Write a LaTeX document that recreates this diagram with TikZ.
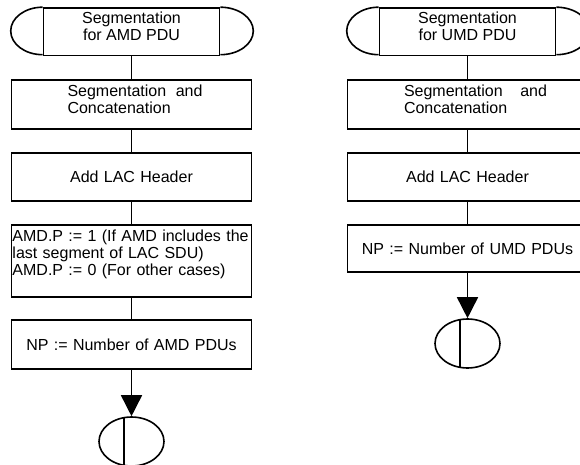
\documentclass[tikz,border=0pt]{standalone}
\usepackage{fontspec}
\setmainfont{Liberation Sans}
\usetikzlibrary{arrows.meta,shapes.geometric,calc}
\begin{document}
\begin{tikzpicture}[x=1pt,y=1pt,
  font=\fontsize{16}{16.7}\selectfont,
  line width=1.6pt,
  box/.style={draw, rectangle, minimum width=240pt, inner xsep=1pt, inner ysep=0pt, text width=238pt, align=left},
  term/.style={draw, rectangle, minimum width=176pt, minimum height=47.5pt, inner sep=0pt, align=center},
  endst/.style={draw, ellipse, minimum width=65pt, minimum height=49pt, inner sep=0pt},
  flow/.style={-{Triangle[length=21pt,width=21pt]}}
]
\useasboundingbox (0,0) rectangle (580,-465);
\clip (0,0) rectangle (580,-465);
% left column
\node[term] (ta) at (131.5,-31.75) {Segmentation\\for AMD PDU\\[-6pt]\mbox{}};
\draw (ta.north west) arc[start angle=90, end angle=270, x radius=32pt, y radius=23.75pt];
\draw (ta.north east) arc[start angle=90, end angle=-90, x radius=33pt, y radius=23.75pt];
\node[box, minimum height=49pt] (a2) at (131.5,-104.5) {\hspace*{55pt}\hbox to 135pt{Segmentation\hfill and}\\\hspace*{55pt}Concatenation\\[-6pt]\mbox{}};
\node[box, minimum height=48pt, align=center] (a3) at (131.5,-177) {Add LAC Header};
\node[box, minimum height=72pt] (a4) at (131.5,-261) {AMD.P := 1 (If AMD includes the\\last segment of LAC SDU)\\AMD.P := 0 (For other cases)\\\mbox{}};
\node[box, minimum height=49pt, align=center] (a5) at (131.5,-344.5) {NP := Number of AMD PDUs};
\node[endst] (ae) at (131.5,-441.5) {};
\draw ($(ae.center)+(-7.5,23.8)$) -- ($(ae.center)+(-7.5,-23.8)$);
\draw (ta) -- (a2);
\draw (a2) -- (a3);
\draw (a3) -- (a4);
\draw (a4) -- (a5);
\draw[flow] (a5) -- (ae);
% right column
\node[term] (tb) at (467.5,-31.75) {Segmentation\\for UMD PDU\\[-6pt]\mbox{}};
\draw (tb.north west) arc[start angle=90, end angle=270, x radius=32pt, y radius=23.75pt];
\draw (tb.north east) arc[start angle=90, end angle=-90, x radius=33pt, y radius=23.75pt];
\node[box, minimum height=49pt] (b2) at (467.5,-104.5) {\hspace*{55.5pt}\hbox to 143pt{Segmentation\hfill and}\\\hspace*{55.5pt}Concatenation\\[-6pt]\mbox{}};
\node[box, minimum height=48pt, align=center] (b3) at (467.5,-177) {Add LAC Header};
\node[box, minimum height=47pt, align=center] (b4) at (467.5,-248.5) {NP := Number of UMD PDUs};
\node[endst] (be) at (467.5,-343.5) {};
\draw ($(be.center)+(-7.5,23.8)$) -- ($(be.center)+(-7.5,-23.8)$);
\draw (tb) -- (b2);
\draw (b2) -- (b3);
\draw (b3) -- (b4);
\draw[flow] (b4) -- (be);
\end{tikzpicture}
\end{document}
